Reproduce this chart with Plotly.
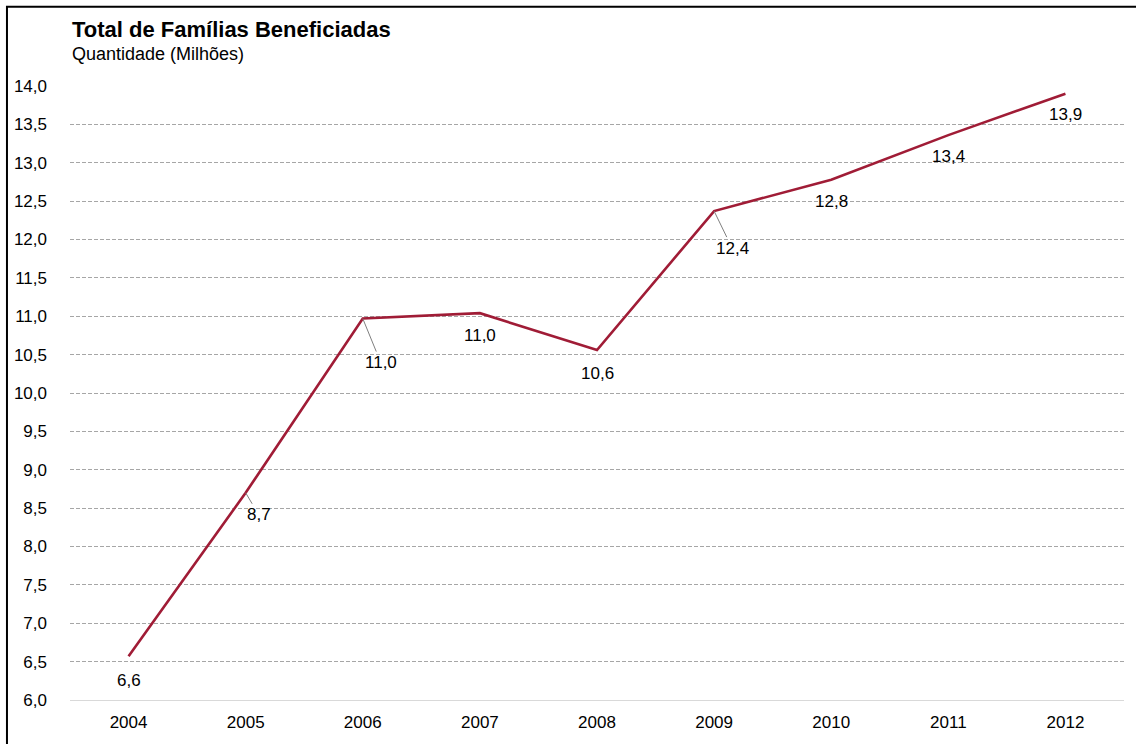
import plotly.graph_objects as go

# Total de famílias beneficiadas (milhões), 2004-2012
anos = [2004, 2005, 2006, 2007, 2008, 2009, 2010, 2011, 2012]
familias = [6.57, 8.70, 10.97, 11.04, 10.56, 12.37, 12.78, 13.36, 13.90]

# label placement per point: (leader line?, dx px, dy px)
rotulos = [
    (False, 0, 24),
    (True, 13, 22),
    (True, 18, 44),
    (False, 0, 22),
    (False, 0, 23),
    (True, 18, 37),
    (False, 0, 22),
    (False, 0, 21),
    (False, 0, 21),
]

COR = "#A01C36"
FONTE = "Liberation Sans, Arial, sans-serif"

fig = go.Figure()
fig.add_trace(go.Scatter(
    x=anos, y=familias, mode="lines",
    line=dict(color=COR, width=2.6),
    hoverinfo="skip", showlegend=False,
))

anotacoes = []
for ano, v, (seta, dx, dy) in zip(anos, familias, rotulos):
    texto = f"{v:.1f}".replace(".", ",")
    if seta:
        anotacoes.append(dict(
            x=ano, y=v, xref="x", yref="y", text=texto,
            showarrow=True, arrowhead=0, arrowwidth=1, arrowcolor="#7f7f7f",
            ax=dx, ay=dy, standoff=0, startstandoff=0,
            font=dict(family=FONTE, size=17, color="#000000"),
        ))
    else:
        anotacoes.append(dict(
            x=ano, y=v, xref="x", yref="y", text=texto,
            showarrow=False, yshift=-dy, xshift=dx,
            font=dict(family=FONTE, size=17, color="#000000"),
        ))

anotacoes.append(dict(
    x=0.0, y=1.0916, xref="paper", yref="paper", xanchor="left", yanchor="middle",
    text="<b>Total de Famílias Beneficiadas</b>", showarrow=False,
    font=dict(family=FONTE, size=22, color="#000000"),
))
anotacoes.append(dict(
    x=0.0, y=1.0517, xref="paper", yref="paper", xanchor="left", yanchor="middle",
    text="Quantidade (Milhões)", showarrow=False,
    font=dict(family=FONTE, size=18, color="#000000"),
))

fig.update_layout(
    width=1136, height=744,
    margin=dict(l=70, r=12, t=86, b=39),
    paper_bgcolor="#ffffff", plot_bgcolor="#ffffff",
    separators=", ",
    font=dict(family=FONTE, size=17, color="#000000"),
    annotations=anotacoes,
    shapes=[dict(
        type="rect", xref="paper", yref="paper",
        x0=-0.0598, x1=1.02, y0=-0.08, y1=1.1292,
        line=dict(color="#000000", width=2), fillcolor="rgba(0,0,0,0)",
        layer="below",
    )],
)
fig.update_xaxes(
    range=[2003.5, 2012.5], tickmode="array", tickvals=anos,
    ticktext=[str(a) for a in anos],
    showgrid=False, showline=True, linecolor="#d9d9d9", linewidth=1, zeroline=False,
    ticks="", tickfont=dict(family=FONTE, size=17), ticklabelstandoff=7,
    fixedrange=True,
)
fig.update_yaxes(
    range=[6, 14], dtick=0.5, tick0=6, tickformat=".1f",
    showgrid=True, gridcolor="#a6a6a6", gridwidth=1, griddash="4px,2px",
    zeroline=False, showline=False, ticks="",
    tickfont=dict(family=FONTE, size=17), ticklabelstandoff=22,
    fixedrange=True,
)

fig.write_html("out.html")
